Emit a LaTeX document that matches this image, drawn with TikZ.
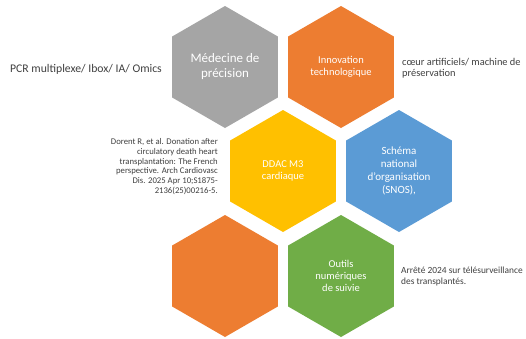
\documentclass[tikz,border=0pt]{standalone}
\usepackage{fontspec}
\setmainfont{Carlito}
\usetikzlibrary{shapes.geometric}
\definecolor{hgray}{HTML}{A5A5A5}
\definecolor{horange}{HTML}{ED7D31}
\definecolor{hyellow}{HTML}{FFC000}
\definecolor{hblue}{HTML}{5B9BD5}
\definecolor{hgreen}{HTML}{70AD47}
\definecolor{txt}{HTML}{404040}
\tikzset{
  hexa/.style={regular polygon, regular polygon sides=6, regular polygon rotate=0,
    shape border rotate=30, minimum size=122pt, inner sep=0pt, outer sep=0pt,
    fill=#1, draw=none, text=white, align=center},
  side/.style={text=txt, inner sep=0pt, font=\fontsize{10.4}{11}\selectfont}
}
\begin{document}
\begin{tikzpicture}[x=1pt,y=-1pt]
\useasboundingbox[fill=white] (0,0) rectangle (526,338);
\node[hexa=hgray, font=\fontsize{13}{15}\selectfont] (med) at (225,67) {Médecine de\\précision};
\node[hexa=horange, font=\fontsize{10.5}{11.5}\selectfont] (inno) at (341,67) {Innovation\\technologique};
\node[hexa=hyellow, font=\fontsize{10.5}{12}\selectfont] (ddac) at (283,171) {DDAC M3\\cardiaque};
\node[hexa=hblue, font=\fontsize{11}{13}\selectfont] (snos) at (399,171) {Schéma\\national\\d'organisation\\(SNOS),};
\node[hexa=horange] (empty) at (225,276) {};
\node[hexa=hgreen, font=\fontsize{10.5}{11.7}\selectfont] (outils) at (341,276) {Outils\\numériques\\de suivie};
\node[side, anchor=west, font=\fontsize{11.7}{13}\selectfont] (pcr) at (10,69) {PCR multiplexe/ Ibox/ IA/ Omics};
\node[side, anchor=west, align=left] (coeur) at (402,68.5) {cœur artificiels/ machine de\\préservation};
\node[side, anchor=east, align=right, font=\fontsize{8.7}{9.8}\selectfont] (dorent) at (218,166.5) {Dorent R, et al. Donation after\\circulatory death heart\\transplantation: The French\\perspective. Arch Cardiovasc\\Dis. 2025 Apr 10;S1875-\\2136(25)00216-5.};
\node[side, anchor=west, align=left, font=\fontsize{9.4}{11}\selectfont] (arrete) at (401,276.5) {Arrêté 2024 sur télésurveillance\\des transplantés.};
\end{tikzpicture}
\end{document}
